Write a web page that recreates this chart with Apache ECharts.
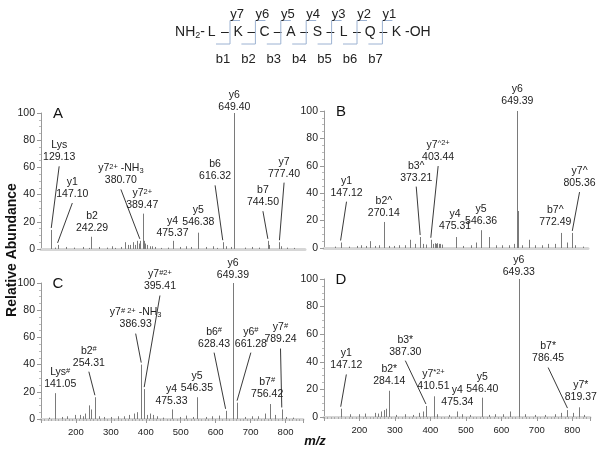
<!DOCTYPE html>
<html>
<head>
<meta charset="utf-8">
<script src="https://cdn.jsdelivr.net/npm/echarts@6/dist/echarts.min.js"></script>
<style>
html, body { margin: 0; padding: 0; background: #fff; }
#main { width: 602px; height: 450px; }
</style>
</head>
<body>
<div id="main"></div>
<script>
var chart = echarts.init(document.getElementById('main'));
var FONT = 'Liberation Sans, Arial, sans-serif';

// peptide sequence
var residues = ['L', 'K', 'C', 'A', 'S', 'L', 'Q', 'K'];
var yIons = ['y7', 'y6', 'y5', 'y4', 'y3', 'y2', 'y1'];
var bIons = ['b1', 'b2', 'b3', 'b4', 'b5', 'b6', 'b7'];

// panel A
var textA = ['y6\n649.40', 'Lys\n129.13', 'y1\n147.10', 'b2\n242.29', 'y7{s|2+} -NH{b|3}\n380.70', 'y7{s|2+}\n389.47',
    'y4\n475.37', 'y5\n546.38', 'b6\n616.32', 'b7\n744.50', 'y7\n777.40'];
var peakA = [[649.40, 100], [129.13, 14], [147.10, 3], [242.29, 9], [380.70, 6], [389.47, 26],
    [475.37, 6], [546.38, 12], [616.32, 5], [744.50, 6], [777.40, 5]];
var spotA = [[649.40, 100, 0], [151.6, 63, 1], [189, 36, 1], [245, 11, 0], [327, 46, 1], [387.5, 27.5, 0],
    [473.4, 7.5, 0], [547, 15.5, 0], [594.6, 49, 1], [730.5, 30, 1], [790.6, 51, 1]];
var noiseA = [[140, 1], [171, 1.5], [195, 1], [218, 1.5], [235, 0.8], [265, 1.5], [288, 1], [302, 2], [310, 0.8], [326, 1.5],
    [340, 5], [346, 3], [354, 3], [362, 5], [368, 3], [373, 6], [377, 4], [393, 6], [396, 4], [400, 3],
    [410, 2], [415, 2], [424, 1.5], [440, 0.8], [460, 1], [494, 1.5], [513, 2], [527, 1.5], [569, 1.5], [588, 2],
    [600, 0.8], [625, 2], [640, 1.5], [680, 1], [700, 1.5], [720, 1], [747, 3], [783, 2], [800, 1], [820, 0.8]];

// panel B
var textB = ['y6\n649.39', 'y1\n147.12', 'b2^\n270.14', 'b3^\n373.21', 'y7{s|^2+}\n403.44', 'y4\n475.31',
    'y5\n546.36', 'b7^\n772.49', 'y7^\n805.36'];
var peakB = [[649.39, 100], [147.12, 4], [270.14, 19], [373.21, 8], [403.44, 6], [475.31, 8],
    [546.36, 13], [772.49, 11], [805.36, 11]];
var spotB = [[649.39, 102.5, 0], [164, 36, 1], [270.14, 21, 0], [362, 47, 1], [424.3, 62, 1], [472.5, 11.5, 0],
    [546.4, 15.5, 0], [757, 14.5, 0], [826, 43, 1]];
var noiseB = [[130, 1], [171, 1], [195, 1.5], [206, 2], [218, 1.5], [230, 5], [246, 1.5], [256, 2], [284, 1.5], [298, 1.5],
    [312, 2], [331, 2], [345, 6], [359, 3], [382, 3], [391, 2.5], [410, 3], [414, 3.5], [418, 3], [422, 3.5],
    [426, 3], [430, 3], [434, 2.5], [494, 1.5], [517, 2], [533, 4], [568, 8], [588, 2], [606, 2], [625, 2],
    [639, 3], [650.4, 27], [662, 2], [681, 6], [700, 2], [719, 2], [737, 3], [756, 3], [789, 4], [812, 2], [835, 1]];

// panel C
var textC = ['Lys{s|#}\n141.05', 'b2{s|#}\n254.31', 'y7{s|# 2+} -NH{b|3}\n386.93', 'y7{s|#2+}\n395.41', 'y6\n649.39',
    'y4\n475.33', 'y5\n546.35', 'b6{s|#}\n628.43', 'y6{s|#}\n661.28', 'b7{s|#}\n756.42', 'y7{s|#}\n789.24'];
var peakC = [[141.05, 19], [254.31, 16], [386.93, 40], [395.41, 22], [649.39, 100],
    [475.33, 7], [546.35, 16], [628.43, 6], [661.28, 12], [756.42, 11], [789.24, 7]];
var spotC = [[155, 21, 0], [237, 37, 1], [371, 65, 1], [440.5, 93, 1], [649.39, 101.5, 0],
    [473.4, 9, 0], [546.35, 18, 0], [595.5, 51, 1], [700.7, 51, 1], [747.4, 14, 0], [785.6, 54, 1]];
var noiseC = [[122, 1], [160, 1.5], [174, 2], [197, 3], [211, 3], [221, 2], [225.5, 4], [238, 10], [244, 7], [267, 2],
    [281, 1.5], [300, 1.5], [319, 2], [338, 2], [352, 3], [366, 4], [375, 5], [403, 3], [413, 4], [422, 3],
    [431.5, 2], [450, 1], [497, 1.5], [516, 2.5], [534, 1.5], [572, 1.5], [590, 2], [609, 2.5], [684, 1.5], [703, 2],
    [722, 2], [740.5, 4], [769, 3], [801, 1.5], [820, 1]];

// panel D
var textD = ['y6\n649.33', 'y1\n147.12', 'b2*\n284.14', 'b3*\n387.30', 'y7{s|*2+}\n410.51', 'y4\n475.34',
    'y5\n546.40', 'b7*\n786.45', 'y7*\n819.37'];
var peakD = [[649.33, 100], [147.12, 6], [284.14, 19], [387.30, 8], [410.51, 15], [475.34, 4],
    [546.40, 14], [786.45, 5], [819.37, 7]];
var spotD = [[649.33, 101, 0], [163, 33, 1], [284.14, 21.5, 0], [329.3, 43, 1], [408.5, 18, 0], [476, 6.5, 0],
    [546.4, 16, 0], [732, 38, 1], [824, 10, 0]];
var noiseD = [[173, 2], [199, 2], [215, 2.5], [243, 3], [252, 2.5], [262, 4], [269, 5], [276, 6], [304, 1.5], [327, 2],
    [350, 1.5], [369, 3], [378, 4], [420, 2], [453, 1.5], [490, 2], [513, 1.5], [564, 1.5], [583, 2], [606, 2],
    [625, 4], [650.3, 35], [667, 2], [695, 1.5], [722, 1.5], [751, 2], [769, 3], [803, 3], [834, 1.5]];

var panels = [
    {name: 'A', text: textA, peak: peakA, spot: spotA, noise: noiseA, grid: {left: 41, top: 113, width: 264, height: 136}, ticks: false},
    {name: 'B', text: textB, peak: peakB, spot: spotB, noise: noiseB, grid: {left: 324, top: 111, width: 264, height: 137}, ticks: false},
    {name: 'C', text: textC, peak: peakC, spot: spotC, noise: noiseC, grid: {left: 41, top: 283, width: 262, height: 136}, ticks: true},
    {name: 'D', text: textD, peak: peakD, spot: spotD, noise: noiseD, grid: {left: 324, top: 279, width: 266, height: 138}, ticks: true}
];

var rich = {
    s: {fontSize: 7.5, fontFamily: FONT, verticalAlign: 'top', lineHeight: 7},
    b: {fontSize: 7.5, fontFamily: FONT, verticalAlign: 'bottom', lineHeight: 7}
};

function stick(params, api) {
    var b = api.coord([api.value(0), 0]);
    var t = api.coord([api.value(0), api.value(1)]);
    var x = Math.round(b[0]) + 0.5;
    return {type: 'line', shape: {x1: x, y1: b[1], x2: x, y2: t[1]},
        style: {stroke: '#7a7a7a', lineWidth: 1}};
}

function labeller(texts) {
    return function (params, api) {
        var a = api.coord([api.value(0), api.value(1)]);
        var p = api.coord([api.value(2), api.value(3)]);
        var kids = [{
            type: 'text',
            style: {x: a[0], y: a[1], text: texts[params.dataIndex], rich: rich,
                align: 'center', verticalAlign: 'bottom', textAlign: 'center', textVerticalAlign: 'bottom',
                fontSize: 10.5, fontFamily: FONT, fill: '#222', lineHeight: 12}
        }];
        if (api.value(4)) {
            kids.push({type: 'line', shape: {x1: a[0], y1: a[1] + 3, x2: p[0], y2: p[1] - 2},
                style: {stroke: '#222', lineWidth: 0.9}});
        }
        return {type: 'group', children: kids};
    };
}

var grids = [], xAxes = [], yAxes = [], series = [], graphic = [];

panels.forEach(function (pn, i) {
    grids.push(pn.grid);
    xAxes.push({
        gridIndex: i, type: 'value', min: 100, max: 850, interval: 100,
        axisLine: {show: true, onZero: false, lineStyle: {color: '#d6d6d6', width: 3}},
        axisTick: {show: pn.ticks, length: 4, lineStyle: {color: '#999'}},
        minorTick: {show: pn.ticks, splitNumber: 10, length: 2, lineStyle: {color: '#aaa'}},
        axisLabel: {show: pn.ticks, margin: 8, fontSize: 9.5, fontFamily: FONT, color: '#222',
            formatter: function (v) { return (v > 100 && v % 100 === 0) ? String(v) : ''; }},
        splitLine: {show: false}
    });
    yAxes.push({
        gridIndex: i, type: 'value', min: 0, max: 100, interval: 20,
        axisLine: {show: true, lineStyle: {color: '#999', width: 1}},
        axisTick: {show: true, length: 4, lineStyle: {color: '#999'}},
        minorTick: {show: true, splitNumber: 4, length: 2, lineStyle: {color: '#bbb'}},
        axisLabel: {margin: 6, fontSize: 10.5, fontFamily: FONT, color: '#222'},
        splitLine: {show: false}
    });
    series.push({
        type: 'custom', xAxisIndex: i, yAxisIndex: i, renderItem: stick, silent: true,
        data: pn.noise.concat(pn.peak)
    });
    series.push({
        type: 'custom', xAxisIndex: i, yAxisIndex: i, renderItem: labeller(pn.text), silent: true, clip: false, z: 5,
        data: pn.spot.map(function (s, k) { return [s[0], s[1], pn.peak[k][0], pn.peak[k][1], s[2]]; })
    });
    graphic.push({type: 'text', x: pn.grid.left + 17, y: pn.grid.top + 1,
        style: {text: pn.name, fontSize: 15, fontFamily: FONT, fill: '#111',
            align: 'center', verticalAlign: 'middle', textAlign: 'center', textVerticalAlign: 'middle'}});
});

// peptide diagram
var seqStyle = {fontSize: 14, fontFamily: FONT, fill: '#222', verticalAlign: 'middle', textVerticalAlign: 'middle'};
graphic.push({type: 'text', x: 205, y: 32, style: Object.assign({}, seqStyle, {text: 'NH{b|2}-', align: 'right', textAlign: 'right',
    rich: {b: {fontSize: 9, fontFamily: FONT, verticalAlign: 'bottom', lineHeight: 8}}, lineHeight: 16})});
residues.forEach(function (r, i) {
    var x = 211.7 + i * 26.4;
    graphic.push({type: 'text', x: x, y: 32, style: Object.assign({}, seqStyle, {text: r, align: 'center', textAlign: 'center'})});
    if (i < residues.length - 1) {
        graphic.push({type: 'text', x: x + 13.2, y: 32, style: Object.assign({}, seqStyle, {text: '\u2013', align: 'center', textAlign: 'center'})});
    }
});
graphic.push({type: 'text', x: 405, y: 32, style: Object.assign({}, seqStyle, {text: '-OH', align: 'left', textAlign: 'left'})});
var blue = '#9cb2d2';
yIons.forEach(function (y, i) {
    var cx = 230 + i * 25.4;
    graphic.push({type: 'polyline', shape: {points: [[cx - 14, 44], [cx, 44], [cx, 20.5], [cx + 10, 20.5]]},
        style: {stroke: blue, lineWidth: 1, fill: null}});
    graphic.push({type: 'text', x: cx + 7, y: 14, style: {text: y, fontSize: 13, fontFamily: FONT, fill: '#222',
        align: 'center', verticalAlign: 'middle', textAlign: 'center', textVerticalAlign: 'middle'}});
    graphic.push({type: 'text', x: cx - 7, y: 59, style: {text: bIons[i], fontSize: 13, fontFamily: FONT, fill: '#222',
        align: 'center', verticalAlign: 'middle', textAlign: 'center', textVerticalAlign: 'middle'}});
});

// axis titles
graphic.push({type: 'text', x: 12, y: 250, rotation: Math.PI / 2,
    style: {text: 'Relative Abundance', fontSize: 14, fontWeight: 'bold', fontFamily: FONT, fill: '#111',
        align: 'center', verticalAlign: 'middle', textAlign: 'center', textVerticalAlign: 'middle'}});
graphic.push({type: 'text', x: 315, y: 441,
    style: {text: 'm/z', fontSize: 13, fontWeight: 'bold', fontStyle: 'italic', fontFamily: FONT, fill: '#111',
        align: 'center', verticalAlign: 'middle', textAlign: 'center', textVerticalAlign: 'middle'}});

chart.setOption({
    animation: false,
    backgroundColor: '#fff',
    grid: grids,
    xAxis: xAxes,
    yAxis: yAxes,
    series: series,
    graphic: graphic
});
</script>
</body>
</html>
